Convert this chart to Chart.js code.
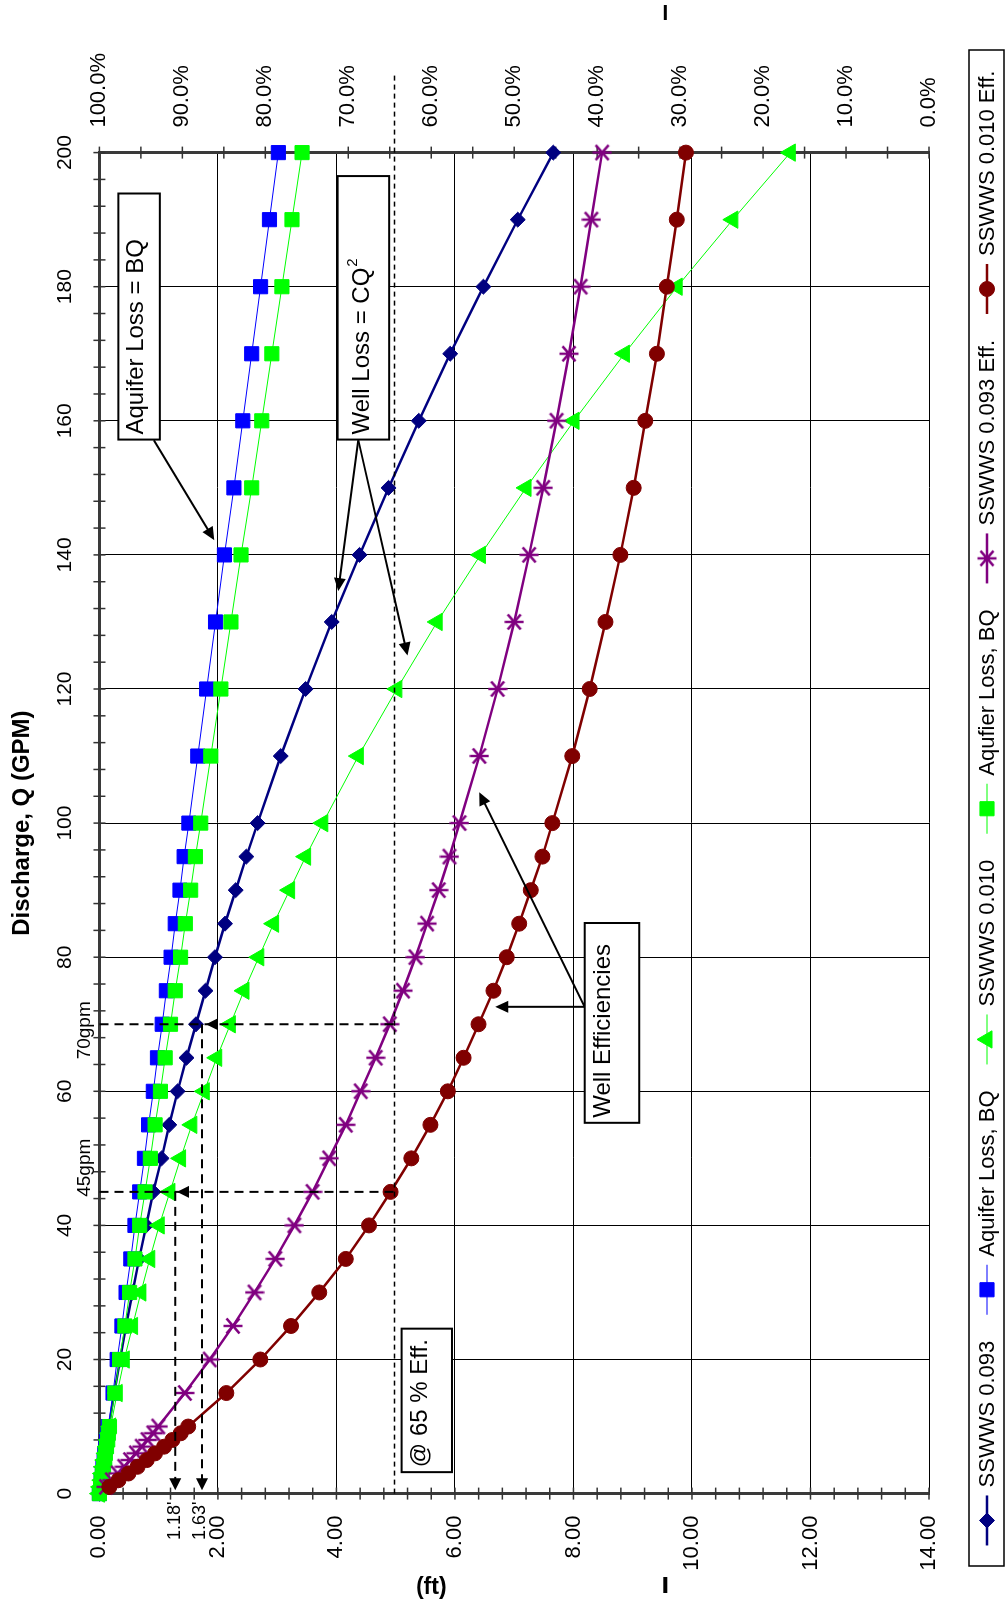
<!DOCTYPE html>
<html>
<head>
<meta charset="utf-8">
<title>Drawdown vs Discharge</title>
<script src="https://cdn.jsdelivr.net/npm/chart.js"></script>
<style>
body { margin: 0; width: 1006px; height: 1606px; overflow: hidden; background: #fff; }
/* chart is laid out landscape, then turned a quarter turn counter-clockwise */
#wrap {
  position: absolute; left: 0; top: 0;
  width: 1606px; height: 1006px;
  transform-origin: 0 0;
  transform: translate(0px, 1606px) rotate(-90deg);
}
</style>
</head>
<body>
<div id="wrap"><canvas id="chart" width="1606" height="1006"></canvas></div>

<script>
// discharge, gpm
const discharge = [0,1,2,3,4,5,6,7,8,9,10,15,20,25,30,35,40,45,50,55,60,65,70,75,80,85,90,95,100,110,120,130,140,150,160,170,180,190,200];

// drawdown, ft
const total093   = [0,0.02,0.03,0.05,0.06,0.08,0.09,0.11,0.13,0.15,0.16,0.25,0.35,0.45,0.56,0.67,0.79,0.91,1.05,1.18,1.32,1.47,1.63,1.79,1.95,2.12,2.30,2.48,2.67,3.06,3.48,3.92,4.39,4.88,5.39,5.92,6.48,7.06,7.66];
const aquifer093 = [0,0.02,0.03,0.05,0.06,0.08,0.09,0.11,0.12,0.14,0.15,0.23,0.30,0.38,0.45,0.53,0.60,0.68,0.76,0.83,0.91,0.98,1.06,1.13,1.21,1.28,1.36,1.43,1.51,1.66,1.81,1.96,2.11,2.27,2.42,2.57,2.72,2.87,3.02];
const total010   = [0,0.02,0.04,0.05,0.07,0.09,0.11,0.13,0.15,0.17,0.19,0.30,0.42,0.56,0.70,0.85,1.01,1.19,1.37,1.56,1.77,1.98,2.21,2.44,2.69,2.94,3.21,3.48,3.77,4.37,5.02,5.70,6.43,7.20,8.01,8.86,9.75,10.69,11.66];
const aquifer010 = [0,0.02,0.03,0.05,0.07,0.09,0.10,0.12,0.14,0.15,0.17,0.26,0.34,0.43,0.51,0.60,0.68,0.77,0.86,0.94,1.03,1.11,1.20,1.28,1.37,1.45,1.54,1.62,1.71,1.88,2.05,2.22,2.39,2.57,2.74,2.91,3.08,3.25,3.42];

// well efficiency, %
const eff093 = [null,99.2,98.5,97.8,97.0,96.3,95.6,94.9,94.2,93.5,92.9,89.7,86.7,83.9,81.3,78.8,76.5,74.3,72.3,70.3,68.5,66.7,65.0,63.4,61.9,60.5,59.1,57.8,56.6,54.2,52.0,50.0,48.2,46.5,44.9,43.4,42.0,40.7,39.4];
const eff010 = [null,98.8,97.7,96.5,95.4,94.3,93.3,92.2,91.2,90.2,89.3,84.7,80.6,76.9,73.5,70.3,67.5,64.9,62.4,60.1,58.0,56.1,54.3,52.5,50.9,49.4,48.0,46.6,45.4,43.0,40.9,39.0,37.2,35.6,34.2,32.8,31.6,30.4,29.3];

const seriesNames = ['SSWWS 0.093', 'Aquifer Loss, BQ', 'SSWWS 0.010', 'Aqufier Loss, BQ', 'SSWWS 0.093 Eff.', 'SSWWS 0.010 Eff.'];

const FONT = "'Liberation Sans', Arial, sans-serif";
Chart.defaults.font.family = FONT;
Chart.defaults.color = '#000';

const pts = arr => discharge.map((q, i) => ({ x: q, y: arr[i] }));

// Excel style asterisk marker
function starMarker(color) {
  const c = document.createElement('canvas');
  c.width = 20; c.height = 20;
  const g = c.getContext('2d');
  g.strokeStyle = color; g.lineWidth = 2.4;
  g.beginPath();
  g.moveTo(10, 0.5); g.lineTo(10, 19.5);
  g.moveTo(2.5, 3.5); g.lineTo(17.5, 16.5);
  g.moveTo(17.5, 3.5); g.lineTo(2.5, 16.5);
  g.stroke();
  return c;
}

function line(ctx, x0, y0, x1, y1) {
  ctx.beginPath(); ctx.moveTo(x0, y0); ctx.lineTo(x1, y1); ctx.stroke();
}

function head(ctx, xt, yt, xf, yf, len, wid) {
  const a = Math.atan2(yt - yf, xt - xf);
  const c = Math.cos(a), s = Math.sin(a);
  ctx.beginPath();
  ctx.moveTo(xt, yt);
  ctx.lineTo(xt - len * c + wid / 2 * s, yt - len * s - wid / 2 * c);
  ctx.lineTo(xt - len * c - wid / 2 * s, yt - len * s + wid / 2 * c);
  ctx.closePath();
  ctx.fill();
}

// cross ticks on the three axes
const tickPlugin = {
  id: 'crossTicks',
  beforeDatasetsDraw(chart) {
    const { ctx, chartArea: a, scales } = chart;
    ctx.save();
    ctx.strokeStyle = '#333'; ctx.lineWidth = 1.5;
    for (let q = 0; q <= 200; q += 4) {
      const x = scales.x.getPixelForValue(q);
      line(ctx, x, a.top - 6, x, a.top + 6);
    }
    for (let k = 0; k <= 35; k++) {
      const y = scales.y.getPixelForValue(k * 0.4);
      line(ctx, a.left - 6, y, a.left + 6, y);
    }
    for (let e = 0; e <= 100; e += 5) {
      const y = scales.y2.getPixelForValue(e);
      line(ctx, a.right - 6, y, a.right + 6, y);
    }
    ctx.restore();
  }
};

// drawn callouts, dashed guides and side labels
const notePlugin = {
  id: 'notes',
  afterDatasetsDraw(chart) {
    const ctx = chart.ctx;
    const X = q => chart.scales.x.getPixelForValue(q);
    const Y = f => chart.scales.y.getPixelForValue(f);
    ctx.save();
    ctx.fillStyle = '#000'; ctx.strokeStyle = '#000';

    // 65 % efficiency guide
    ctx.setLineDash([5, 4]); ctx.lineWidth = 1.5;
    line(ctx, X(0), Y(4.98), X(212), Y(4.98));

    // 70 gpm and 45 gpm guides
    ctx.setLineDash([9, 6]); ctx.lineWidth = 2;
    line(ctx, X(70), Y(0), X(70), Y(4.98));
    line(ctx, X(45), Y(0), X(45), Y(4.98));
    line(ctx, X(70), Y(1.73), X(0.9), Y(1.73));
    line(ctx, X(45), Y(1.28), X(0.9), Y(1.28));
    ctx.setLineDash([]);
    head(ctx, X(70), Y(1.80), X(70), Y(3), 12, 12);
    head(ctx, X(45), Y(1.31), X(45), Y(3), 12, 12);
    head(ctx, X(0.5), Y(1.73), X(20), Y(1.73), 12, 12);
    head(ctx, X(0.5), Y(1.28), X(20), Y(1.28), 12, 12);

    // solid arrows from the text boxes
    ctx.lineWidth = 2;
    const arrows = [
      [157.1, 0.92, 142.2, 1.94],
      [157.1, 4.37, 134.6, 4.03],
      [157.1, 4.37, 125.0, 5.20],
      [72.6, 8.19, 72.6, 6.68],
      [72.6, 8.19, 104.6, 6.41]
    ];
    arrows.forEach(([q0, f0, q1, f1]) => {
      const x0 = X(q0), y0 = Y(f0), x1 = X(q1), y1 = Y(f1);
      const a = Math.atan2(y1 - y0, x1 - x0);
      line(ctx, x0, y0, x1 - 10 * Math.cos(a), y1 - 10 * Math.sin(a));
      head(ctx, x1, y1, x0, y0, 13, 12);
    });

    // text boxes
    const boxes = [
      [157.2, 193.9, 0.32, 1.02, 'Aquifer Loss = BQ', ''],
      [157.2, 196.5, 4.02, 4.89, 'Well Loss = CQ', '2'],
      [55.3, 85.1, 8.19, 9.11, 'Well Efficiencies', ''],
      [3.2, 24.6, 5.10, 5.95, '@ 65 % Eff.', '']
    ];
    boxes.forEach(([q0, q1, f0, f1, txt, sup]) => {
      const x0 = X(q0), x1 = X(q1), y0 = Y(f0), y1 = Y(f1);
      ctx.fillStyle = '#fff';
      ctx.fillRect(x0, y0, x1 - x0, y1 - y0);
      ctx.lineWidth = 2; ctx.strokeStyle = '#000';
      ctx.strokeRect(x0, y0, x1 - x0, y1 - y0);
      ctx.fillStyle = '#000';
      ctx.font = '24px ' + FONT;
      ctx.textAlign = 'left'; ctx.textBaseline = 'alphabetic';
      const base = y0 + (sup ? 31 : 25);
      ctx.fillText(txt, x0 + 5, base);
      if (sup) {
        const w = ctx.measureText(txt).width;
        ctx.font = '15px ' + FONT;
        ctx.fillText(sup, x0 + 6 + w, base - 12);
      }
    });

    // small labels
    ctx.font = '19px ' + FONT;
    ctx.textBaseline = 'middle';
    ctx.textAlign = 'center';
    ctx.fillText('70gpm', X(69.1), Y(-0.24));
    ctx.fillText('45gpm', X(48.6), Y(-0.24));
    ctx.font = '18px ' + FONT;
    ctx.textAlign = 'right';
    ctx.fillText("1.18'", X(-1.2), Y(1.28));
    ctx.fillText("1.63'", X(-1.2), Y(1.70));

    // left axis title remnant
    ctx.save();
    ctx.translate(18.5, Y(5.6));
    ctx.rotate(Math.PI / 2);
    ctx.font = 'bold 23px ' + FONT;
    ctx.textAlign = 'center';
    ctx.fillText('(ft)', 0, 0);
    ctx.restore();
    ctx.fillRect(13, Y(9.55) - 2, 16, 4);
    ctx.fillRect(1586, Y(9.55) - 1.5, 15, 3);

    ctx.restore();
  }
};

// boxed legend row under the plot
const legendPlugin = {
  id: 'boxLegend',
  afterDraw(chart) {
    const ctx = chart.ctx;
    ctx.save();
    ctx.font = '22px ' + FONT;
    const sym = 50, gap = 8, sep = 26, cy = 987;
    const sets = chart.data.datasets;
    const widths = sets.map(ds => ctx.measureText(ds.label).width);
    const total = widths.reduce((s, w) => s + sym + gap + w, 0) + sep * (sets.length - 1);
    ctx.lineWidth = 1.5; ctx.strokeStyle = '#000';
    ctx.strokeRect(40, 969, 1516, 35);
    let x = 798 - total / 2;
    sets.forEach((ds, i) => {
      ctx.strokeStyle = ds.borderColor; ctx.lineWidth = ds.borderWidth;
      line(ctx, x, cy, x + sym, cy);
      ctx.fillStyle = ds.backgroundColor; ctx.strokeStyle = ds.borderColor; ctx.lineWidth = 1;
      Chart.helpers.drawPoint(ctx, { pointStyle: ds.pointStyle, radius: ds.pointRadius, rotation: 0, borderWidth: 1 }, x + sym / 2, cy);
      ctx.fillStyle = '#000';
      ctx.textAlign = 'left'; ctx.textBaseline = 'middle';
      ctx.fillText(ds.label, x + sym + gap, cy + 1);
      x += sym + gap + widths[i] + sep;
    });
    ctx.restore();
  }
};

function series(i, arr, axis, color, width, style, radius) {
  return {
    label: seriesNames[i], data: pts(arr), yAxisID: axis,
    borderColor: color, backgroundColor: color, borderWidth: width,
    pointStyle: style, pointRadius: radius, pointBorderWidth: 1,
    pointBackgroundColor: color, pointBorderColor: color,
    tension: 0, clip: false, order: 6 - i
  };
}

new Chart(document.getElementById('chart'), {
  type: 'line',
  data: {
    datasets: [
      series(0, total093, 'y', '#000080', 2.5, 'rectRot', 7.5),
      series(1, aquifer093, 'y', '#0000ff', 1, 'rect', 10),
      series(2, total010, 'y', '#00ff00', 1, 'triangle', 10),
      series(3, aquifer010, 'y', '#00ff00', 1, 'rect', 10),
      series(4, eff093, 'y2', '#800080', 2.5, starMarker('#800080'), 10),
      series(5, eff010, 'y2', '#800000', 2.5, 'circle', 7.5)
    ]
  },
  options: {
    responsive: false,
    animation: false,
    devicePixelRatio: 1,
    events: [],
    layout: { padding: { top: 0, left: 0, right: 0, bottom: 77 } },
    plugins: { legend: { display: false }, tooltip: { enabled: false } },
    scales: {
      x: {
        type: 'linear', position: 'top', min: 0, max: 200,
        ticks: { stepSize: 20, padding: 22, font: { size: 21 }, maxRotation: 0, autoSkip: false },
        grid: { color: '#000', lineWidth: 1, drawTicks: false },
        border: { color: '#3a3a3a', width: 3 },
        title: { display: true, text: 'Discharge, Q (GPM)', font: { size: 24, weight: 'bold' }, padding: { top: 8, bottom: 0 } },
        afterFit(s) { s.height = 99.4; s.paddingLeft = 0; s.paddingRight = 0; }
      },
      y: {
        type: 'linear', position: 'left', reverse: true, min: 0, max: 14,
        ticks: { stepSize: 2, padding: 22, font: { size: 22 }, callback: v => v.toFixed(2) },
        grid: { color: '#000', lineWidth: 1, drawTicks: false },
        border: { color: '#3a3a3a', width: 3 },
        afterFit(s) { s.width = 112.4; s.paddingTop = 0; s.paddingBottom = 0; }
      },
      y2: {
        type: 'linear', position: 'right', min: 0, max: 100,
        ticks: { stepSize: 10, padding: 25, font: { size: 22 }, callback: v => v.toFixed(1) + '%' },
        grid: { drawOnChartArea: false, drawTicks: false },
        border: { color: '#3a3a3a', width: 3 },
        afterFit(s) { s.width = 152.6; s.paddingTop = 0; s.paddingBottom = 0; }
      }
    }
  },
  plugins: [tickPlugin, notePlugin, legendPlugin]
});
</script>
</body>
</html>
